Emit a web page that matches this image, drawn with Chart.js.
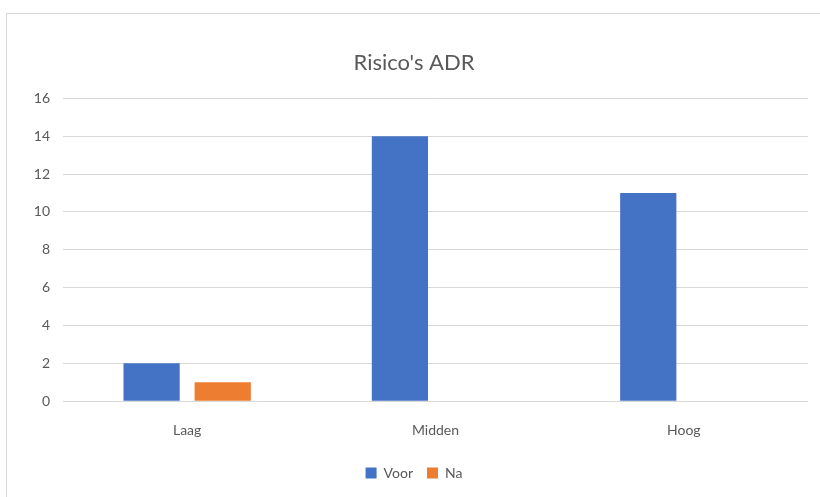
<!DOCTYPE html>
<html>
<head>
<meta charset="utf-8">
<script src="https://cdn.jsdelivr.net/npm/chart.js@4"></script>
<style>
    html, body { margin: 0; padding: 0; background: #fff; }
    #wrap { position: relative; width: 820px; height: 497px; overflow: hidden; }
    #frame { position: absolute; left: 6px; top: 13px; width: 830px; height: 500px; border: 1px solid #d9d9d9; box-sizing: border-box; }
    canvas { position: absolute; left: 0; top: 0; }
</style>
</head>
<body>
<div id="wrap">
    <div id="frame"></div>
    <canvas id="chart" width="820" height="497"></canvas>
</div>
<script>
const categories = ['Laag', 'Midden', 'Hoog'];
const voorValues = [2, 14, 11];
const naValues = [1, 0, 0];
const yTicks = [0, 2, 4, 6, 8, 10, 12, 14, 16];

const textColor = '#595959';
const fontFamily = 'Lato, "Open Sans", sans-serif';

const ctx = document.getElementById('chart').getContext('2d');

new Chart(ctx, {
    type: 'bar',
    data: {
        labels: categories,
        datasets: [
            { label: 'Voor', data: voorValues, backgroundColor: '#4472C4' },
            { label: 'Na', data: naValues, backgroundColor: '#ED7D31' }
        ]
    },
    options: {
        responsive: false,
        animation: false,
        devicePixelRatio: 1,
        categoryPercentage: 0.573,
        barPercentage: 0.79,
        layout: { padding: { top: 50, left: 20, right: 12, bottom: 7 } },
        scales: {
            x: {
                grid: { display: false },
                border: { display: false },
                ticks: { color: textColor, font: { family: fontFamily, size: 14 }, padding: 13 }
            },
            y: {
                min: 0,
                max: 16,
                afterBuildTicks: axis => { axis.ticks = yTicks.map(v => ({ value: v })); },
                afterFit: axis => { axis.width = 43; },
                grid: { color: '#d9d9d9', lineWidth: 1, drawTicks: false },
                border: { display: false },
                ticks: { color: textColor, font: { family: fontFamily, size: 14 }, padding: 13 }
            }
        },
        plugins: {
            title: {
                display: true,
                text: "Risico's ADR",
                color: textColor,
                font: { family: fontFamily, size: 22, weight: 'normal' },
                padding: { top: 0, bottom: 22 }
            },
            legend: {
                position: 'bottom',
                labels: {
                    color: textColor,
                    font: { family: fontFamily, size: 14 },
                    boxWidth: 11,
                    boxHeight: 11,
                    padding: 14
                }
            },
            tooltip: { enabled: false }
        }
    }
});
</script>
</body>
</html>
